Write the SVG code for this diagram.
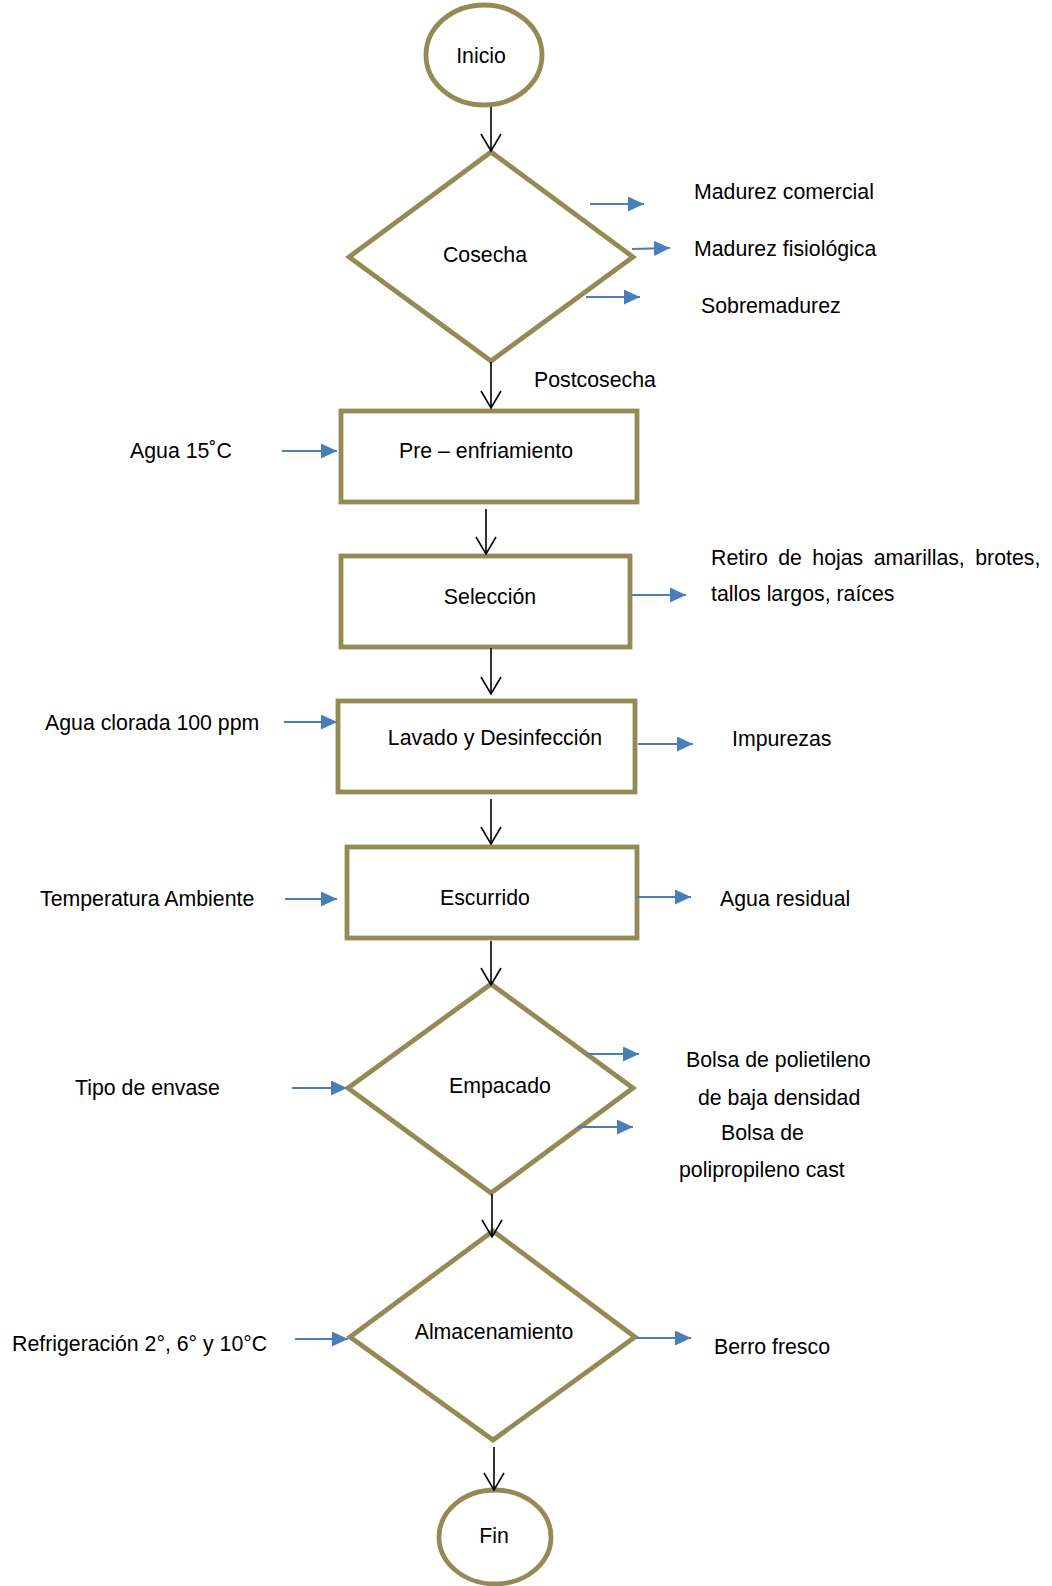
<svg xmlns="http://www.w3.org/2000/svg" width="1052" height="1586" viewBox="0 0 1052 1586">
<style>
.n{fill:#fff;stroke:#948A54;stroke-width:4.8}
.t{font-family:"Liberation Sans",Arial,sans-serif;font-size:21.3px;fill:#000}
.c{text-anchor:middle}
.k{stroke:#000;stroke-width:1.6;fill:none;marker-end:url(#v)}
.b{stroke:#4A7EBB;stroke-width:2;fill:none;marker-end:url(#bh)}
</style>
<defs>
<marker id="v" markerUnits="userSpaceOnUse" viewBox="0 0 20 22" refX="18" refY="11" markerWidth="20" markerHeight="22" orient="auto">
<path d="M1,1 L18,11 L1,21" fill="none" stroke="#000" stroke-width="1.6"/>
</marker>
<marker id="bh" markerUnits="userSpaceOnUse" viewBox="0 0 16 15" refX="16" refY="7.5" markerWidth="16" markerHeight="15" orient="auto">
<path d="M0,0 L16,7.5 L0,15 Z" fill="#4A7EBB"/>
</marker>
</defs>
<rect width="1052" height="1586" fill="#fff"/>

<g id="inicio"><ellipse class="n" cx="484" cy="55" rx="58" ry="50"/><text class="t c" x="481" y="63">Inicio</text></g>
<g id="cosecha"><polygon class="n" points="491,152 633,257 491,361 349,257"/><text class="t c" x="485" y="262">Cosecha</text></g>
<g id="preenfriamiento"><rect class="n" x="341" y="411" width="296" height="91"/><text class="t c" x="486" y="458">Pre – enfriamiento</text></g>
<g id="seleccion"><rect class="n" x="341" y="556" width="289" height="91"/><text class="t c" x="490" y="604">Selección</text></g>
<g id="lavado"><rect class="n" x="338" y="701" width="297" height="91"/><text class="t c" x="495" y="745">Lavado y Desinfección</text></g>
<g id="escurrido"><rect class="n" x="347" y="847" width="290" height="91"/><text class="t c" x="485" y="905">Escurrido</text></g>
<g id="empacado"><polygon class="n" points="491,984 633,1088 491,1193 348,1088"/><text class="t c" x="500" y="1093">Empacado</text></g>
<g id="almacenamiento"><polygon class="n" points="493,1231 635,1337 493,1440 350,1337"/><text class="t c" x="494" y="1339">Almacenamiento</text></g>
<g id="fin"><ellipse class="n" cx="495" cy="1537" rx="56" ry="47"/><text class="t c" x="494" y="1543">Fin</text></g>

<g id="labels">
<text class="t" x="694" y="199">Madurez comercial</text>
<text class="t" x="694" y="256">Madurez fisiológica</text>
<text class="t" x="701" y="313">Sobremadurez</text>
<text class="t" x="534" y="387">Postcosecha</text>
<text class="t" x="130" y="458">Agua 15˚C</text>
<text class="t" x="711" y="565" word-spacing="4.5">Retiro de hojas amarillas, brotes,</text>
<text class="t" x="711" y="601">tallos largos, raíces</text>
<text class="t" x="45" y="730">Agua clorada 100 ppm</text>
<text class="t" x="732" y="746">Impurezas</text>
<text class="t" x="40" y="906">Temperatura Ambiente</text>
<text class="t" x="720" y="906">Agua residual</text>
<text class="t" x="75" y="1095">Tipo de envase</text>
<text class="t" x="686" y="1067">Bolsa de polietileno</text>
<text class="t" x="698" y="1105">de baja densidad</text>
<text class="t" x="721" y="1140">Bolsa de</text>
<text class="t" x="679" y="1177">polipropileno cast</text>
<text class="t" x="12" y="1351">Refrigeración 2°, 6° y 10°C</text>
<text class="t" x="714" y="1354">Berro fresco</text>
</g>

<g id="connectors">
<line class="k" x1="491" y1="107" x2="491" y2="151"/>
<line class="k" x1="491" y1="362" x2="491" y2="408"/>
<line class="k" x1="486" y1="509" x2="486" y2="554"/>
<line class="k" x1="491" y1="648" x2="491" y2="694"/>
<line class="k" x1="491" y1="799" x2="491" y2="844"/>
<line class="k" x1="491" y1="941" x2="491" y2="985"/>
<line class="k" x1="492" y1="1194" x2="492" y2="1237"/>
<line class="k" x1="494" y1="1447" x2="494" y2="1490"/>

<line class="b" x1="590" y1="204" x2="644" y2="204"/>
<line class="b" x1="632" y1="249" x2="670" y2="248"/>
<line class="b" x1="586" y1="297" x2="640" y2="297"/>
<line class="b" x1="282" y1="451" x2="337" y2="451"/>
<line class="b" x1="631" y1="595" x2="686" y2="595"/>
<line class="b" x1="284" y1="722" x2="337" y2="722"/>
<line class="b" x1="638" y1="744" x2="693" y2="744"/>
<line class="b" x1="285" y1="899" x2="337" y2="899"/>
<line class="b" x1="637" y1="897" x2="691" y2="897"/>
<line class="b" x1="292" y1="1088" x2="347" y2="1088"/>
<line class="b" x1="587" y1="1054" x2="639" y2="1054"/>
<line class="b" x1="577" y1="1127" x2="633" y2="1127"/>
<line class="b" x1="295" y1="1339" x2="348" y2="1339"/>
<line class="b" x1="636" y1="1338" x2="691" y2="1338"/>
</g>
</svg>
